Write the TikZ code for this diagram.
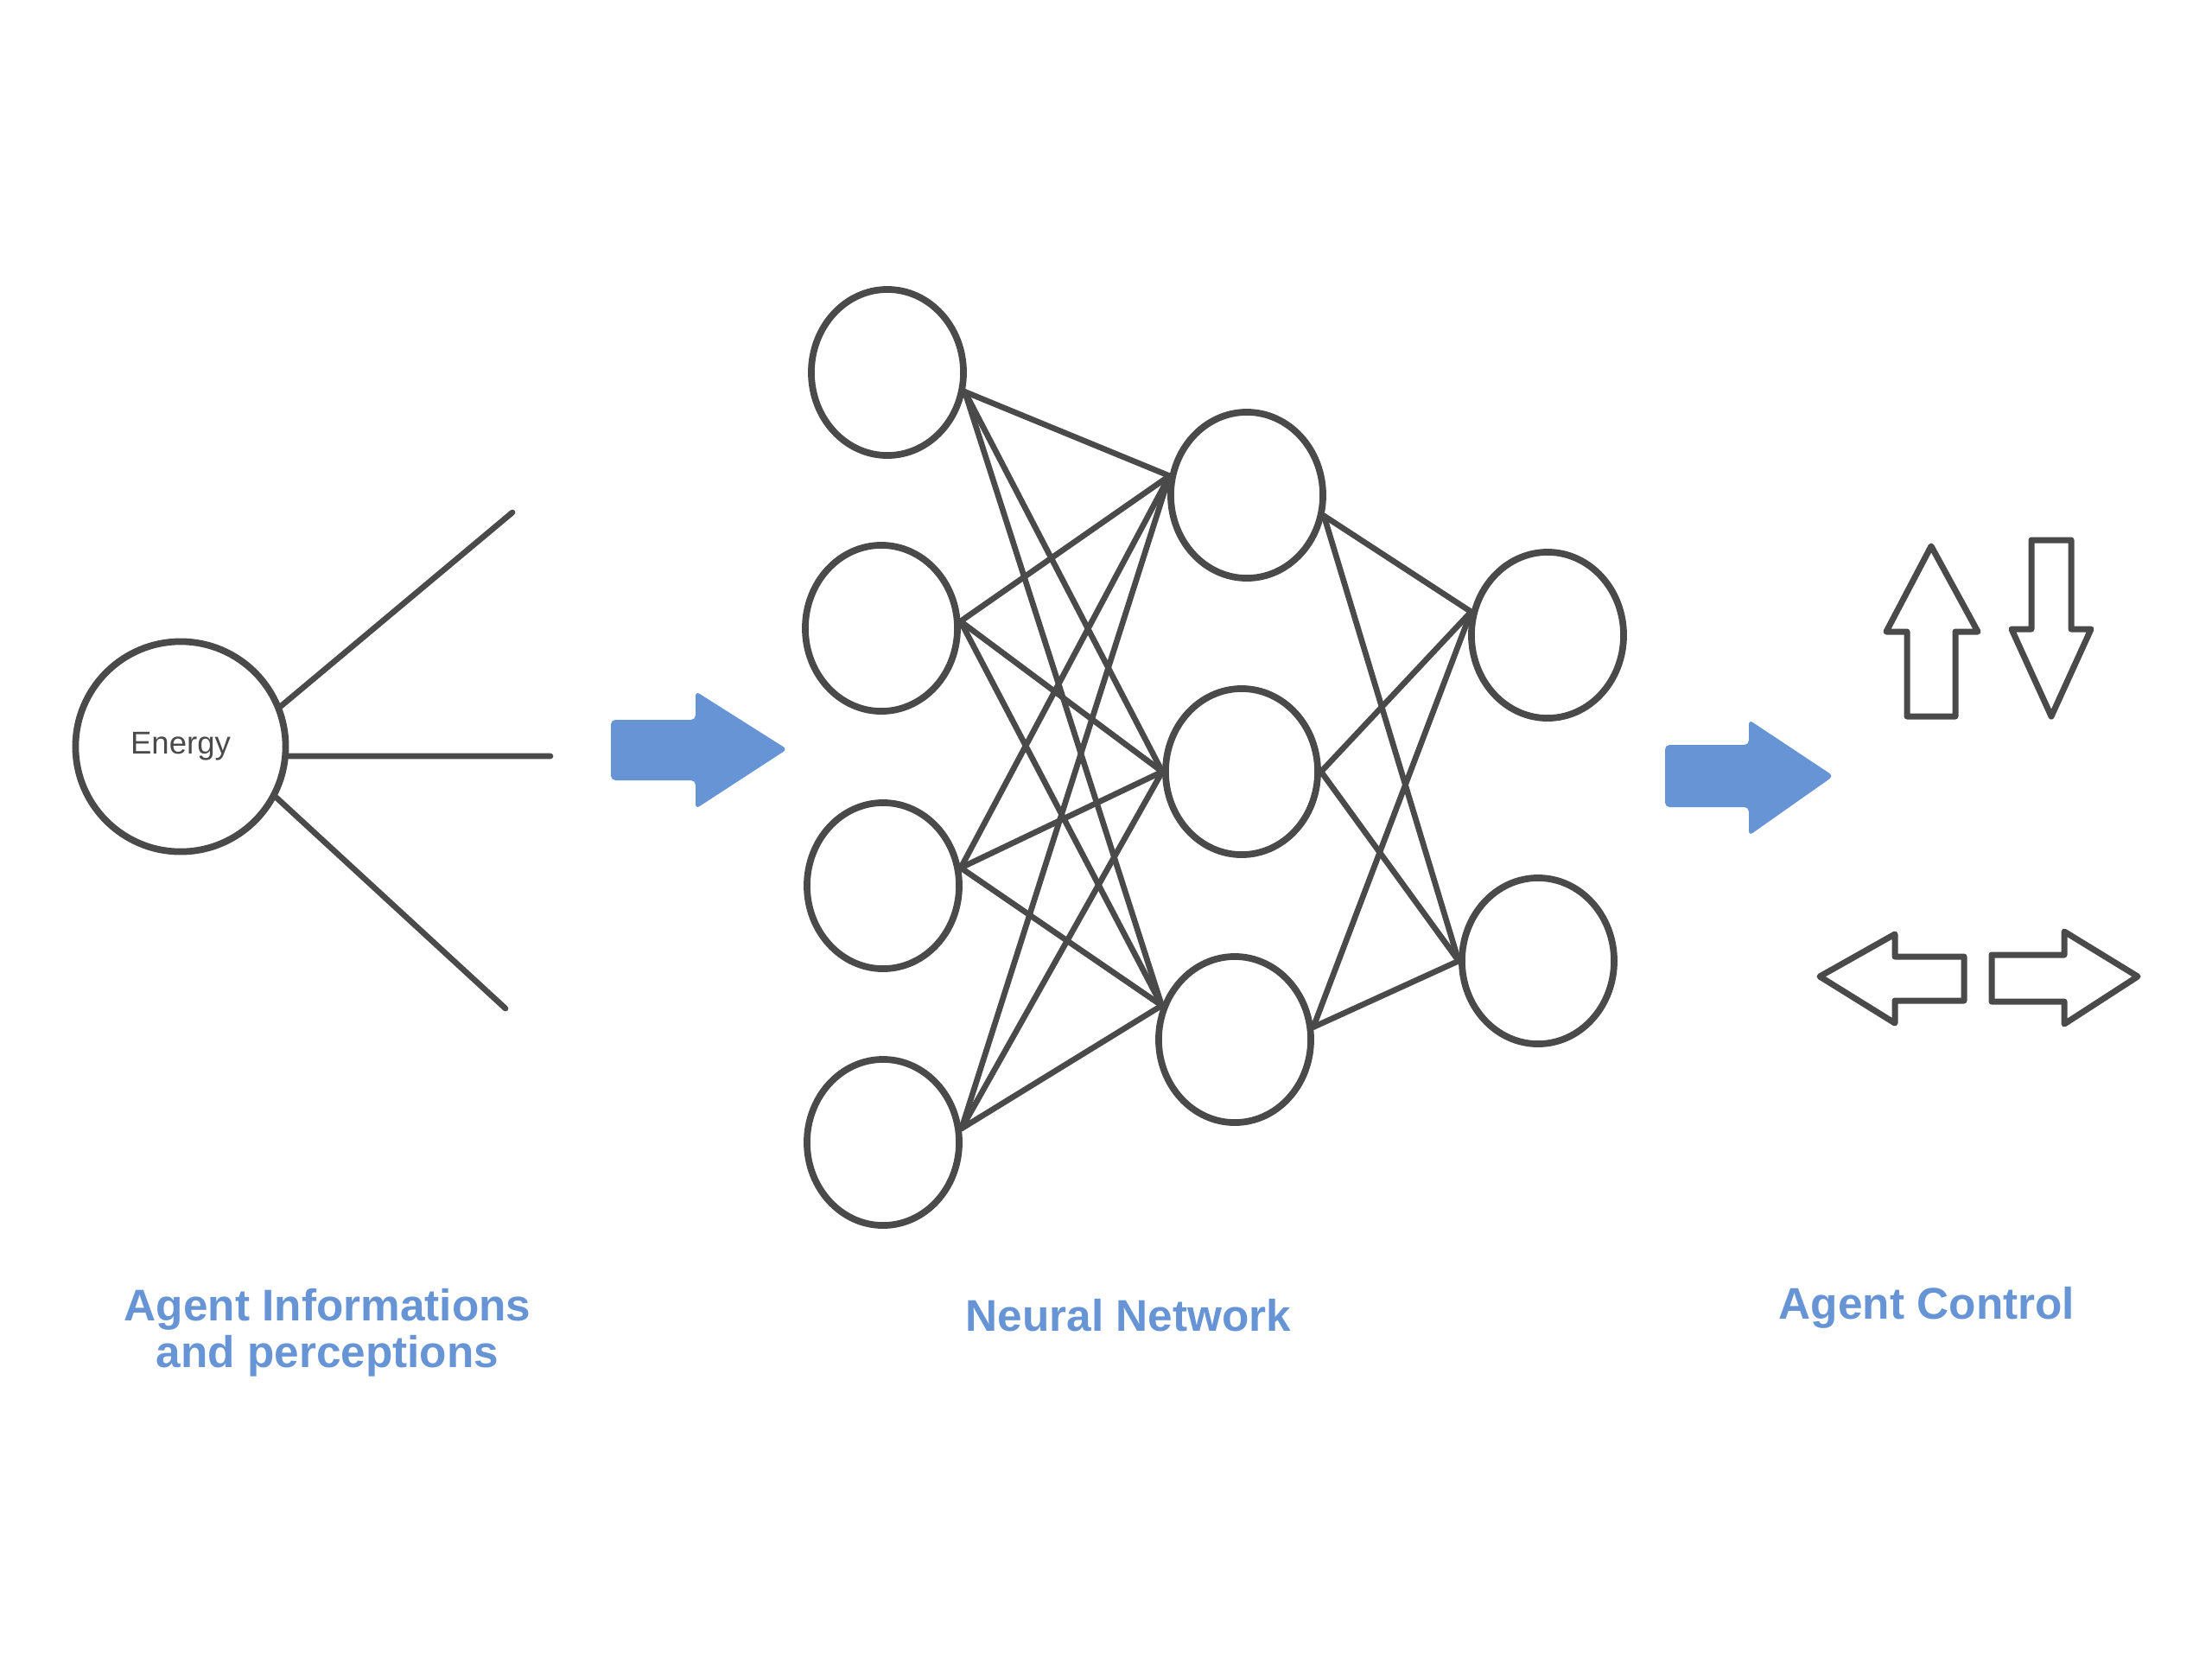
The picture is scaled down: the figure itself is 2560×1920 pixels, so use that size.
\documentclass[tikz,border=0pt]{standalone}
\usepackage{fontspec}
\setmainfont{Liberation Sans}
\usetikzlibrary{positioning,shapes.geometric}
\definecolor{darkline}{HTML}{4A4A4A}
\definecolor{flowblue}{HTML}{6794D4}

\begin{document}
\begin{tikzpicture}[%
    x=0.01cm, y=-0.01cm,
    neuron/.style={draw=darkline, line width=2.2pt, ellipse,
      minimum width=1.76cm, minimum height=1.92cm, inner sep=0pt},
    sensor/.style={draw=darkline, line width=2.2pt, circle,
      minimum size=2.43cm, inner sep=0pt, text=darkline,
      font=\fontsize{10.4}{12}\selectfont},
    link/.style={draw=darkline, line width=1.9pt, line cap=round},
    flow/.style={fill=flowblue, rounded corners=1.5pt},
    ctrl/.style={draw=darkline, line width=2pt, line join=round},
    caption/.style={text=flowblue, align=center,
      font=\bfseries\fontsize{14.6}{15.4}\selectfont}
  ]
    \useasboundingbox (0,0) rectangle (2560,1920);

    % agent inputs
    \node[sensor] (energy) at (209,864) {Energy};
    \coordinate (sense-a) at (593,593);
    \coordinate (sense-b) at (637,875);
    \coordinate (sense-c) at (585,1167);
    \draw[link] (energy.22) -- (sense-a);
    \draw[link] (energy.-5) -- (sense-b);
    \draw[link] (energy.-28) -- (sense-c);

    % network layers
    \node[neuron] (i1) at (1027,431) {};
    \node[neuron] (i2) at (1020,727) {};
    \node[neuron] (i3) at (1022,1025) {};
    \node[neuron] (i4) at (1022,1322) {};

    \node[neuron] (h1) at (1443,573) {};
    \node[neuron] (h2) at (1437,893) {};
    \node[neuron] (h3) at (1429,1203) {};

    \node[neuron] (o1) at (1791,735) {};
    \node[neuron] (o2) at (1780,1112) {};

    \foreach \i/\a in {1/-14,2/5,3/13,4/10}
      \foreach \j/\b in {1/166,2/180,3/155}
        \draw[link] (i\i.\a) -- (h\j.\b);

    \foreach \j/\a in {1/-15,2/0,3/9}
      \foreach \k/\b in {1/163,2/180}
        \draw[link] (h\j.\a) -- (o\k.\b);

    % flow arrows
    \fill[flow] (707,833) -- (805,833) -- (805,800) -- (911,867)
      -- (805,936) -- (805,903) -- (707,903) -- cycle;
    \fill[flow] (1927,862) -- (2024,862) -- (2024,833) -- (2122,898)
      -- (2024,967) -- (2024,934) -- (1927,934) -- cycle;

    % agent controls
    \draw[ctrl] (2235,632) -- (2289,731) -- (2263,731) -- (2263,829)
      -- (2207,829) -- (2207,731) -- (2183,731) -- cycle;
    \draw[ctrl] (2374,829) -- (2420,728) -- (2397,728) -- (2397,625)
      -- (2351,625) -- (2351,728) -- (2328,728) -- cycle;
    \draw[ctrl] (2106,1130) -- (2193,1081) -- (2193,1107) -- (2273,1107)
      -- (2273,1158) -- (2193,1158) -- (2193,1184) -- cycle;
    \draw[ctrl] (2474,1130) -- (2389,1078) -- (2389,1105) -- (2305,1105)
      -- (2305,1159) -- (2389,1159) -- (2389,1185) -- cycle;

    % captions
    \node[caption] (info) at (379,1542) {Agent Informations\\and perceptions};
    \node[caption] (net) at (1306,1522) {Neural Network};
    \node[caption] (control) at (2230,1513) {Agent Control};
  \end{tikzpicture}
\end{document}
